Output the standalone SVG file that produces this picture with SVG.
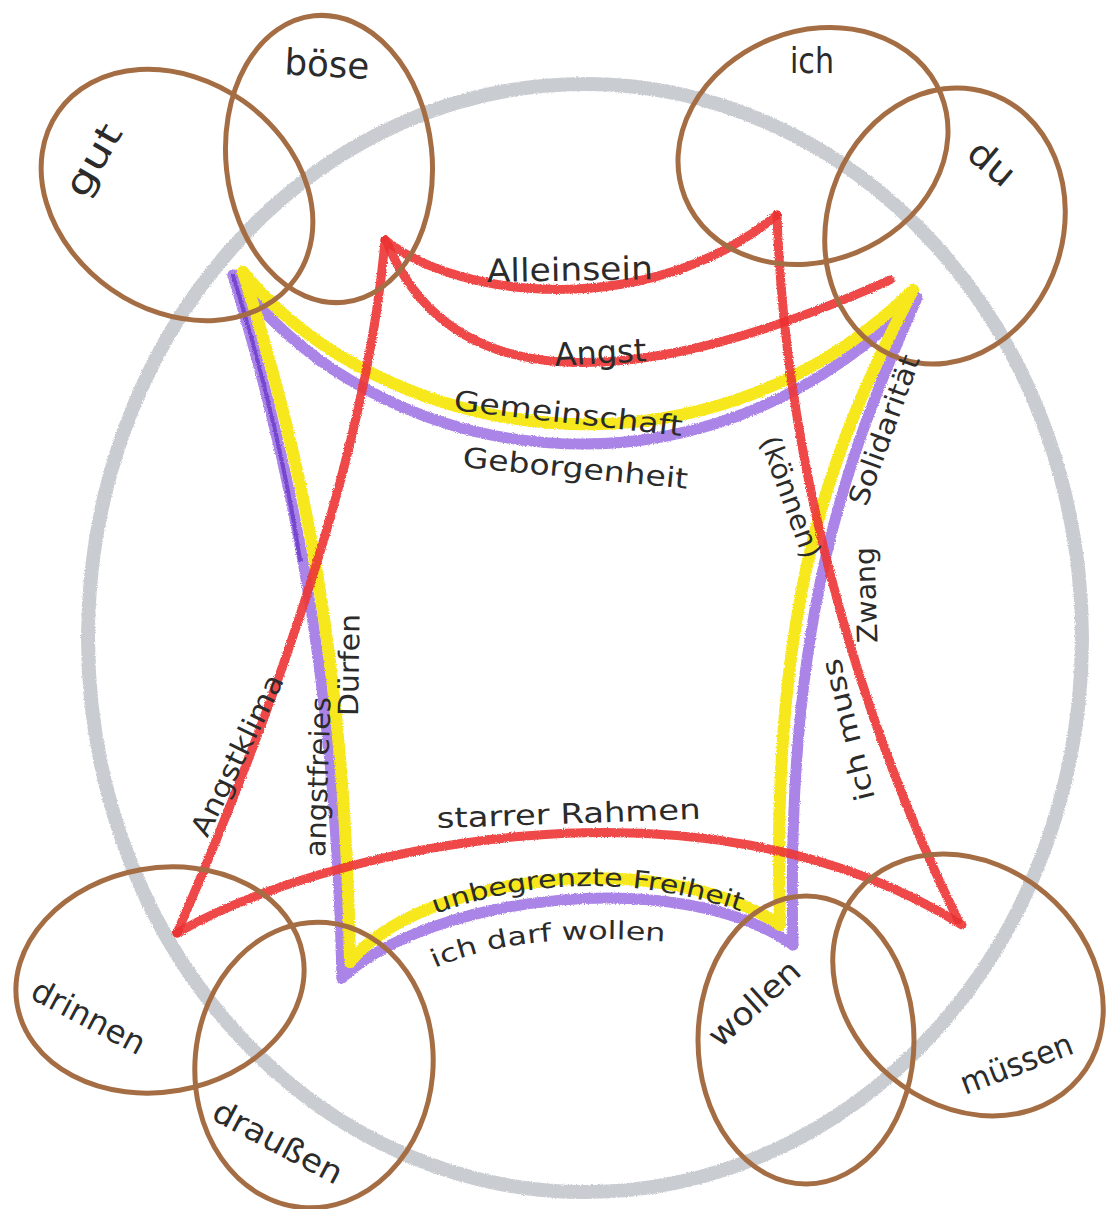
<svg xmlns="http://www.w3.org/2000/svg" width="1107" height="1209" viewBox="0 0 1107 1209">
<style>
.bg{fill:#ffffff}
.gray{fill:none;stroke:#c3c6cc;stroke-width:14;opacity:0.9}
.brown{fill:none;stroke:#a56d43;stroke-width:5}
.red{fill:none;stroke:#ec3434;stroke-width:9;stroke-linecap:round;stroke-linejoin:round;opacity:0.9}
.yel{fill:none;stroke:#f6e81a;stroke-width:12;stroke-linecap:round;stroke-linejoin:round}
.pur{fill:none;stroke:#ab84e8;stroke-width:11;stroke-linecap:round;stroke-linejoin:round}
.purd{fill:none;stroke:#7447cf;stroke-width:4;stroke-linecap:round}
text{font-family:"DejaVu Sans","Noto Sans",sans-serif;fill:#2b2b2b}
.big{font-size:36px}
.mid{font-size:32px}
.sm{font-size:28px}
.xs{font-size:25px}
</style>
<defs>
<filter id="crayon" x="-5%" y="-5%" width="110%" height="110%">
<feTurbulence type="fractalNoise" baseFrequency="0.9" numOctaves="2" seed="3" result="n"/>
<feDisplacementMap in="SourceGraphic" in2="n" scale="3" xChannelSelector="R" yChannelSelector="G"/>
</filter>
<path id="pFrei" d="M435,914 Q590,858 748,914"/>
<path id="pDarf" d="M435,968 Q520,930 672,942"/>
</defs>
<rect class="bg" x="0" y="0" width="1107" height="1209"/>

<g id="outer" filter="url(#crayon)">
<ellipse class="gray" cx="585" cy="638" rx="497" ry="554"/>
</g>

<g id="connectors" filter="url(#crayon)">
<!-- purple / yellow shape -->
<path class="pur" d="M233,275 C380,470 700,520 917,298"/>
<path class="pur" d="M233,275 C285,450 335,650 342,978"/>
<path class="pur" d="M342,978 C430,895 680,865 793,945"/>
<path class="pur" d="M917,298 C845,460 785,620 793,945"/>
<path class="purd" d="M233,275 C262,370 285,460 300,560"/>
<path class="yel" d="M243,272 C380,440 700,500 913,290"/>
<path class="yel" d="M243,272 C300,450 345,650 350,962"/>
<path class="yel" d="M350,962 C420,875 660,845 780,925"/>
<path class="yel" d="M913,290 C830,450 770,600 780,925"/>
<!-- red shape -->
<path class="red" d="M385,240 C460,300 650,320 777,215"/>
<path class="red" d="M388,245 C450,390 620,400 890,280"/>
<path class="red" d="M385,240 C370,420 300,650 177,933"/>
<path class="red" d="M777,215 C785,450 850,700 958,920"/>
<path class="red" d="M177,933 C320,850 700,760 962,925"/>
</g>

<g id="node-gut">
<ellipse class="brown" cx="177" cy="195" rx="145" ry="115" transform="rotate(35 177 195)"/>
<text class="big" transform="translate(93,160) rotate(-60)" text-anchor="middle" dy="0.35em" textLength="78" lengthAdjust="spacingAndGlyphs">gut</text>
</g>
<g id="node-boese">
<ellipse class="brown" cx="329" cy="159" rx="103" ry="144" transform="rotate(-6 329 159)"/>
<text class="big" transform="translate(327,64) rotate(3)" text-anchor="middle" dy="0.35em" textLength="85" lengthAdjust="spacingAndGlyphs">böse</text>
</g>
<g id="node-ich">
<ellipse class="brown" cx="813" cy="146" rx="138" ry="115" transform="rotate(-22 813 146)"/>
<text class="big" transform="translate(812,60)" text-anchor="middle" dy="0.35em" textLength="44" lengthAdjust="spacingAndGlyphs">ich</text>
</g>
<g id="node-du">
<ellipse class="brown" cx="945" cy="226" rx="118" ry="140" transform="rotate(18 945 226)"/>
<text class="big" transform="translate(992,163) rotate(40)" text-anchor="middle" dy="0.35em" textLength="50" lengthAdjust="spacingAndGlyphs">du</text>
</g>
<g id="node-drinnen">
<ellipse class="brown" cx="160" cy="980" rx="145" ry="112" transform="rotate(-10 160 980)"/>
<text class="mid" transform="translate(88,1018) rotate(28)" text-anchor="middle" dy="0.3em" textLength="124" lengthAdjust="spacingAndGlyphs">drinnen</text>
</g>
<g id="node-draussen">
<ellipse class="brown" cx="314" cy="1065" rx="119" ry="143" transform="rotate(5 314 1065)"/>
<text class="mid" transform="translate(278,1142) rotate(28)" text-anchor="middle" dy="0.35em" textLength="142" lengthAdjust="spacingAndGlyphs">draußen</text>
</g>
<g id="node-wollen">
<ellipse class="brown" cx="806" cy="1040" rx="108" ry="144"/>
<text class="mid" transform="translate(754,1003) rotate(-42)" text-anchor="middle" dy="0.35em" textLength="112" lengthAdjust="spacingAndGlyphs">wollen</text>
</g>
<g id="node-muessen">
<ellipse class="brown" cx="968" cy="985" rx="145" ry="120" transform="rotate(40 968 985)"/>
<text class="mid" transform="translate(1017,1065) rotate(-21)" text-anchor="middle" dy="0.3em" textLength="118" lengthAdjust="spacingAndGlyphs">müssen</text>
</g>

<g id="labels">
<text class="mid" transform="translate(487,282) rotate(-1)" textLength="166" lengthAdjust="spacingAndGlyphs">Alleinsein</text>
<text class="mid" transform="translate(555,366) rotate(-3)" textLength="92" lengthAdjust="spacingAndGlyphs">Angst</text>
<text class="sm" transform="translate(453,410) rotate(6.5)" textLength="230" lengthAdjust="spacingAndGlyphs">Gemeinschaft</text>
<text class="sm" transform="translate(462,467) rotate(5.5)" textLength="226" lengthAdjust="spacingAndGlyphs">Geborgenheit</text>
<text class="sm" transform="translate(437,828) rotate(-2)" textLength="264" lengthAdjust="spacingAndGlyphs">starrer Rahmen</text>
<text class="xs"><textPath href="#pFrei" textLength="312" lengthAdjust="spacingAndGlyphs">unbegrenzte Freiheit</textPath></text>
<text class="xs"><textPath href="#pDarf" textLength="234" lengthAdjust="spacingAndGlyphs">ich darf wollen</textPath></text>
<text class="sm" transform="translate(237,755) rotate(-64)" text-anchor="middle" dy="0.35em" textLength="176" lengthAdjust="spacingAndGlyphs">Angstklima</text>
<text class="sm" transform="translate(318,777) rotate(-88)" text-anchor="middle" dy="0.35em" textLength="160" lengthAdjust="spacingAndGlyphs">angstfreies</text>
<text class="sm" transform="translate(349,665) rotate(-89)" text-anchor="middle" dy="0.35em" textLength="102" lengthAdjust="spacingAndGlyphs">Dürfen</text>
<text class="sm" transform="translate(884,430) rotate(-70)" text-anchor="middle" dy="0.35em" textLength="158" lengthAdjust="spacingAndGlyphs">Solidarität</text>
<text class="sm" transform="translate(791,497) rotate(70)" text-anchor="middle" dy="0.35em" textLength="128" lengthAdjust="spacingAndGlyphs">(können)</text>
<text class="sm" transform="translate(866,595) rotate(-92)" text-anchor="middle" dy="0.35em" textLength="96" lengthAdjust="spacingAndGlyphs">Zwang</text>
<text class="sm" transform="translate(848,730) rotate(-104)" text-anchor="middle" dy="0.35em" textLength="145" lengthAdjust="spacingAndGlyphs">ich muss</text>
</g>
</svg>
